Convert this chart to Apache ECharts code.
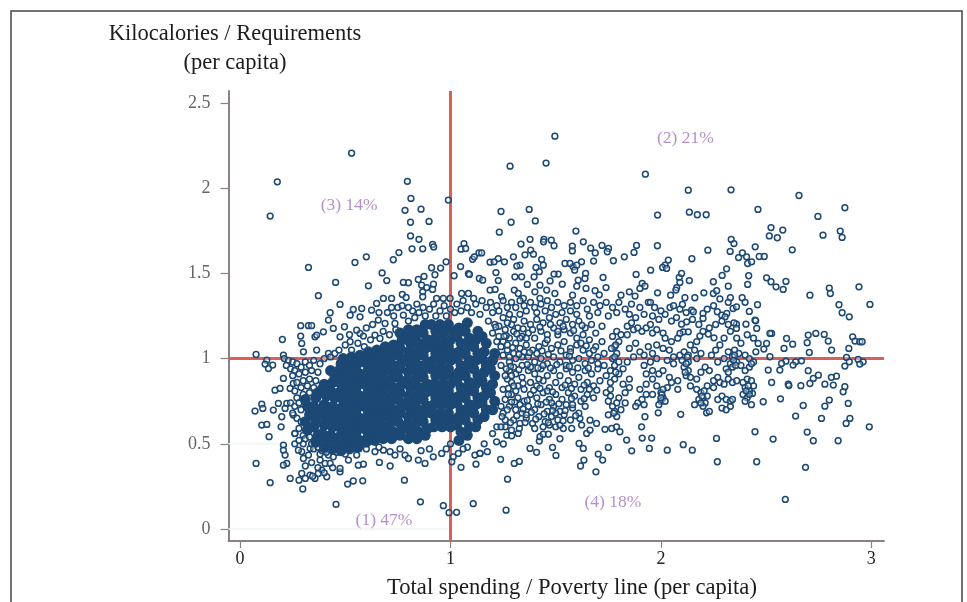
<!DOCTYPE html>
<html>
<head>
<meta charset="utf-8">
<script src="https://cdn.jsdelivr.net/npm/echarts@6/dist/echarts.min.js"></script>
<style>
  html, body { margin: 0; padding: 0; background: #fff; overflow: hidden; }
  #myChart { width: 967px; height: 602px; filter: blur(0.35px); }
</style>
</head>
<body>
<div id="myChart"></div>
<script>
// values: [spending, kilocalories]
const outliersTop = [[.53,2.205],[.177,2.037],[.143,1.836],[.795,2.04],[.99,1.93],[.812,1.94],[.784,1.87],[.86,1.877],[.81,1.8],[.898,1.805],[.81,1.72],[.85,1.7],[.915,1.67],[.92,1.655],[.817,1.644],[.868,1.644],[1.064,1.675],[1.05,1.642],[1.072,1.646],[1.105,1.583],[1.113,1.597],[1.135,1.62],[.755,1.622],[.728,1.58],[.6,1.597],[.546,1.564],[.325,1.535],[.979,1.568],[.91,1.533],[.953,1.531],[1.048,1.54],[.675,1.503],[.697,1.458],[1.017,1.486],[.926,1.492],[1.085,1.498],[1.09,1.494],[.454,1.447],[.61,1.427],[.776,1.447],[.8,1.445],[.847,1.464],[.874,1.482],[.919,1.437],[.863,1.431],[.887,1.417],[.915,1.406],[.868,1.392],[1.137,1.47],[.372,1.369],[.771,1.376],[.789,1.359],[.681,1.353],[.72,1.353],[.868,1.363],[.934,1.353],[.966,1.353],[.998,1.353],[1.053,1.382],[1.085,1.382],[1.11,1.353]];
const outliersTopRight = [[1.496,2.305],[1.283,2.129],[1.454,2.147],[1.926,2.082],[2.13,1.988],[2.333,1.99],[2.656,1.957],[2.874,1.885],[2.746,1.834],[2.461,1.875],[1.984,1.842],[2.135,1.859],[2.173,1.844],[2.215,1.844],[1.24,1.863],[1.374,1.875],[1.288,1.8],[1.403,1.808],[1.232,1.742],[1.596,1.748],[1.378,1.7],[1.444,1.7],[1.442,1.685],[1.479,1.695],[1.492,1.662],[1.631,1.685],[1.335,1.672],[1.579,1.66],[1.579,1.632],[1.666,1.648],[1.72,1.664],[1.751,1.646],[1.745,1.627],[1.688,1.62],[1.884,1.664],[1.872,1.623],[1.826,1.597],[1.774,1.574],[1.68,1.572],[1.983,1.662],[2.035,1.578],[2.02,1.548],[2.008,1.535],[2.027,1.529],[1.951,1.519],[1.882,1.494],[2.147,1.586],[2.223,1.636],[2.329,1.629],[2.334,1.699],[2.347,1.675],[2.448,1.656],[2.523,1.769],[2.515,1.72],[2.553,1.709],[2.579,1.754],[2.624,1.638],[2.77,1.724],[2.852,1.748],[2.861,1.711],[2.387,1.62],[2.369,1.593],[2.407,1.597],[2.412,1.558],[2.431,1.568],[2.467,1.599],[2.491,1.599],[2.312,1.527],[2.291,1.488],[2.417,1.486],[2.412,1.435],[2.502,1.474],[2.523,1.451],[2.547,1.421],[2.594,1.453],[2.581,1.406],[2.32,1.425],[2.249,1.451],[2.204,1.386],[2.249,1.382],[2.265,1.398],[2.135,1.458],[2.087,1.476],[2.098,1.5],[2.09,1.447],[2.075,1.417],[2.071,1.402],[2.046,1.372],[2.114,1.357],[2.161,1.357],[1.984,1.386],[1.911,1.441],[1.924,1.425],[1.9,1.412],[1.85,1.392],[1.877,1.367],[1.81,1.372],[1.739,1.417],[1.725,1.476],[1.687,1.398],[1.707,1.374],[1.644,1.412],[1.6,1.425],[1.642,1.5],[1.639,1.47],[1.607,1.46],[1.623,1.568],[1.583,1.539],[1.544,1.558],[1.568,1.558],[1.6,1.548],[1.59,1.519],[1.58,1.372],[1.531,1.437],[1.512,1.496],[1.492,1.496],[1.473,1.456],[1.496,1.382],[1.457,1.402],[1.425,1.431],[1.401,1.392],[1.365,1.435],[1.397,1.48],[1.422,1.51],[1.441,1.548],[1.406,1.535],[1.433,1.582],[1.354,1.609],[1.381,1.636],[1.394,1.613],[1.299,1.597],[1.33,1.548],[1.315,1.543],[1.338,1.48],[1.306,1.48],[1.216,1.505],[1.227,1.458],[1.256,1.568],[1.227,1.587],[1.188,1.566],[1.207,1.568],[1.148,1.62],[1.153,1.46],[1.188,1.402],[1.212,1.406],[1.303,1.402],[1.322,1.382],[1.243,1.363],[1.346,1.353],[1.425,1.353],[2.708,1.372],[2.8,1.414],[2.805,1.382],[2.941,1.421],[2.33,1.357],[2.386,1.357]];
const sparseRight = [[2.993,1.318],[2.846,1.316],[2.861,1.269],[2.895,1.245],[2.459,1.316],[2.42,1.277],[2.447,1.226],[2.45,1.222],[2.404,1.202],[2.359,1.202],[2.347,1.21],[2.359,1.177],[2.455,1.177],[2.268,1.275],[2.289,1.255],[2.313,1.265],[2.305,1.245],[2.343,1.294],[2.359,1.304],[2.2,1.265],[2.2,1.236],[2.146,1.284],[2.154,1.275],[2.102,1.318],[2.043,1.3],[2.074,1.241],[2.122,1.216],[2.098,1.202],[2.106,1.157],[2.13,1.157],[2.09,1.148],[2.185,1.132],[2.225,1.144],[2.252,1.122],[2.526,1.148],[2.518,1.148],[2.597,1.118],[2.7,1.138],[2.736,1.148],[2.776,1.142],[2.695,1.093],[2.795,1.103],[2.911,1.128],[2.922,1.103],[2.945,1.099],[2.956,1.099],[2.893,1.06],[2.811,1.05],[2.705,1.036],[2.626,1.085],[2.585,1.06],[2.462,1.089],[2.502,1.089],[2.489,1.056],[2.451,1.04],[2.518,1.011],[2.882,1.007],[2.937,.995],[2.961,.981],[2.945,.968],[2.895,.981],[2.874,.956],[2.668,.987],[2.64,.981],[2.594,.985],[2.573,.972],[2.628,.962],[2.565,.933],[2.51,.933],[2.7,.929],[2.748,.903],[2.724,.884],[2.708,.854],[2.834,.897],[2.81,.89],[2.779,.85],[2.819,.845],[2.526,.86],[2.605,.85],[2.608,.842],[2.665,.841],[2.874,.835],[2.866,.805],[2.8,.757],[2.779,.721],[2.89,.737],[2.676,.725],[2.568,.764],[2.486,.747],[2.435,.796],[2.64,.663],[2.763,.649],[2.898,.649],[2.88,.62],[2.99,.6],[2.695,.569],[2.724,.518],[2.842,.518],[2.533,.528],[2.447,.571],[2.264,.532],[2.455,.395],[2.268,.395],[2.687,.362],[2.591,.174],[2.217,.682],[2.094,.673],[1.987,.682],[1.924,.659]];
const sparseBottom = [[1.908,.6],[1.837,.522],[1.911,.534],[1.956,.534],[1.861,.459],[1.945,.473],[2.03,.463],[2.106,.495],[2.149,.463],[1.75,.479],[1.702,.44],[1.723,.405],[1.634,.405],[1.618,.37],[1.691,.336],[1.611,.502],[1.631,.473],[1.52,.53],[1.485,.479],[1.501,.432],[1.378,.473],[1.409,.45],[1.422,.516],[1.238,.409],[1.303,.385],[1.327,.397],[1.271,.293],[1.264,.111],[1.175,.454],[1.219,.512],[1.251,.499],[1.14,.444],[1.267,.551],[1.291,.547],[1.322,.561],[1.327,.59],[1.425,.542],[1.441,.557],[1.465,.557],[1.536,.59],[1.576,.59],[1.647,.561],[1.663,.581],[1.734,.585],[1.766,.59],[1.789,.6],[1.805,.571],[1.663,.639],[1.694,.62],[1.615,.649],[1.623,.61],[1.05,.362],[1.006,.395],[1.121,.381],[.879,.385],[.713,.37],[.662,.391],[.562,.375],[.586,.381],[.475,.336],[.475,.356],[.38,.405],[.404,.385],[.428,.385],[.388,.346],[.372,.326],[.301,.414],[.325,.434],[.293,.454],[.277,.463],[.333,.473],[.42,.434],[.443,.424],[.515,.405],[.554,.434],[.641,.454],[.681,.463],[.713,.454],[.736,.434],[.784,.434],[.8,.414],[.847,.405],[.918,.424],[.958,.444],[1.116,.434],[1.14,.444],[1.037,.444],[1.013,.424],[.238,.297],[.293,.326],[.333,.317],[.356,.297],[.28,.287],[.298,.235],[.412,.307],[.511,.264],[.538,.282],[.583,.283],[.781,.287],[.456,.145],[.857,.16],[.966,.137],[.993,.096],[1.029,.098],[1.108,.149],[.143,.272],[.076,.385],[.206,.493],[.206,.463],[.214,.434],[.222,.385],[.206,.375],[.31,.297],[.345,.31],[.4,.33],[.44,.36],[.37,.36],[.34,.39],[.31,.37],[.26,.5],[.3,.5],[.34,.5],[.38,.44],[.46,.45],[.5,.44],[.6,.47],[.66,.48],[.76,.47],[.86,.46],[.9,.47],[.98,.47],[1.08,.48],[1.16,.5],[1.06,.47],[1,.5]];
const leftFringe = [[.076,1.024],[.201,1.112],[.206,1.02],[.127,.991],[.135,.942],[.155,.962],[.119,.968],[.288,1.193],[.325,1.193],[.34,1.193],[.288,1.132],[.293,1.089],[.356,1.128],[.364,1.138],[.396,1.157],[.428,1.269],[.42,1.226],[.443,1.177],[.496,1.187],[.475,1.128],[.523,1.099],[.57,1.148],[.554,1.167],[.475,1.318],[.523,1.255],[.538,1.288],[.578,1.294],[.57,1.245],[.625,1.284],[.649,1.324],[.657,1.226],[.689,1.206],[.736,1.206],[.776,1.255],[.641,1.138],[.665,1.118],[.586,1.132],[.301,1.04],[.364,1.05],[.42,1.03],[.206,.884],[.166,.815],[.19,.825],[.238,.825],[.253,.854],[.103,.733],[.108,.708],[.071,.692],[.158,.698],[.182,.737],[.222,.737],[.214,.708],[.198,.659],[.253,.669],[.103,.61],[.127,.614],[.195,.6],[.138,.542],[.261,.561],[.21,1],[.23,.99],[.25,.98],[.27,.97],[.22,.96],[.24,.94],[.26,.93],[.29,.95],[.31,.98],[.33,.96],[.35,.99],[.38,.97],[.4,1],[.43,1.01],[.45,1.03],[.25,.9],[.28,.91],[.31,.92],[.34,.93],[.37,.92],[.27,.86],[.3,.87],[.33,.88],[.36,.87],[.26,.81],[.29,.83],[.32,.84],[.35,.83],[.27,.77],[.3,.79],[.33,.8],[.24,.74],[.26,.72],[.28,.74],[.29,.7],[.25,.68],[.27,.65],[.29,.63],[.28,.59],[.26,.56],[.3,.55],[.28,.52],[.31,.53],[.33,.54],[.35,.47],[.37,.48],[.39,.46],[.41,.45],[.47,1.05],[.5,1.08],[.53,1.05],[.56,1.09],[.59,1.07],[.62,1.11],[.52,1.14],[.6,1.18],[.63,1.2],[.68,1.16],[.71,1.14],[.74,1.17],[.66,1.27],[.7,1.27],[.73,1.25],[.75,1.3],[.72,1.3]];
const upperBand = [[.8,1.22],[.83,1.24],[.82,1.28],[.85,1.27],[.87,1.3],[.84,1.32],[.8,1.3],[.77,1.31],[.88,1.25],[.9,1.29],[.92,1.32],[.95,1.28],[.93,1.25],[.97,1.31],[1,1.29],[1.03,1.32],[1.06,1.34],[1.02,1.27],[.98,1.25],[1.05,1.28],[1.08,1.3],[1.1,1.27],[1.12,1.32],[1.15,1.34],[1.17,1.3],[1.14,1.26],[1.19,1.33],[1.22,1.31],[1.25,1.34],[1.2,1.27],[1.23,1.28],[1.27,1.3],[1.29,1.33],[1.31,1.3],[1.28,1.26],[1.25,1.24],[1.18,1.22],[1.21,1.2],[1.33,1.34],[1.35,1.31],[1.38,1.33],[1.36,1.28],[1.33,1.26],[1.3,1.23],[1.4,1.3],[1.43,1.32],[1.46,1.34],[1.41,1.27],[1.45,1.28],[1.48,1.3],[1.51,1.33],[1.54,1.31],[1.5,1.26],[1.53,1.27],[1.57,1.33],[1.6,1.31],[1.63,1.34],[1.57,1.28],[1.6,1.26],[1.65,1.29],[1.68,1.33],[1.71,1.31],[1.66,1.25],[1.7,1.27],[1.74,1.33],[1.77,1.3],[1.8,1.33],[1.75,1.25],[1.79,1.27],[1.83,1.29],[1.86,1.32],[1.9,1.3],[1.94,1.33],[1.97,1.3],[2,1.28],[1.85,1.26],[1.88,1.24],[1.92,1.26],[1.96,1.25],[1.99,1.23],[2.02,1.26],[2.05,1.22]];
const rightDense = [[1.2,1.15],[1.23,1.13],[1.26,1.17],[1.29,1.2],[1.32,1.18],[1.35,1.22],[1.38,1.2],[1.41,1.23],[1.44,1.21],[1.47,1.24],[1.25,1.1],[1.28,1.12],[1.31,1.09],[1.34,1.13],[1.37,1.15],[1.4,1.12],[1.43,1.16],[1.46,1.14],[1.49,1.18],[1.52,1.21],[1.55,1.23],[1.58,1.2],[1.61,1.22],[1.64,1.18],[1.51,1.14],[1.54,1.17],[1.57,1.15],[1.6,1.12],[1.63,1.14],[1.66,1.11],[1.69,1.15],[1.72,1.19],[1.67,1.2],[1.27,1.05],[1.3,1.03],[1.33,1.06],[1.36,1.08],[1.39,1.05],[1.42,1.07],[1.45,1.09],[1.48,1.06],[1.51,1.08],[1.54,1.1],[1.57,1.06],[1.6,1.08],[1.63,1.05],[1.66,1.03],[1.69,1.07],[1.72,1.1],[1.28,.98],[1.31,1],[1.34,.96],[1.37,1.01],[1.4,.98],[1.43,1],[1.46,.97],[1.49,1.01],[1.52,.98],[1.55,1.02],[1.58,.99],[1.61,1],[1.64,.97],[1.67,.99],[1.7,1.01],[1.73,1.03],[1.28,.93],[1.31,.91],[1.34,.89],[1.37,.93],[1.4,.91],[1.43,.94],[1.46,.9],[1.49,.93],[1.52,.9],[1.55,.94],[1.58,.92],[1.61,.89],[1.64,.93],[1.67,.91],[1.7,.94],[1.73,.96],[1.29,.86],[1.32,.84],[1.35,.82],[1.38,.86],[1.41,.84],[1.44,.87],[1.47,.83],[1.5,.86],[1.53,.83],[1.56,.87],[1.59,.85],[1.62,.82],[1.65,.86],[1.68,.84],[1.71,.87],[1.29,.79],[1.32,.77],[1.35,.75],[1.38,.79],[1.41,.77],[1.44,.8],[1.47,.76],[1.5,.79],[1.53,.76],[1.56,.8],[1.59,.78],[1.62,.75],[1.65,.79],[1.68,.77],[1.28,.72],[1.31,.7],[1.34,.68],[1.37,.72],[1.4,.7],[1.43,.73],[1.46,.69],[1.49,.72],[1.52,.69],[1.55,.73],[1.58,.71],[1.61,.68],[1.64,.72],[1.3,.64],[1.33,.62],[1.36,.65],[1.39,.62],[1.42,.66],[1.45,.63],[1.48,.66],[1.51,.64],[1.54,.67],[1.57,.64],[1.26,.6],[1.29,.58],[1.22,.6],[1.2,.56],[1.4,.59],[1.44,.6],[1.47,.61],[1.5,.6],[1.52,.61],[1.3,1.16],[1.33,1.12],[1.35,1.04],[1.38,.95],[1.42,.88],[1.46,.81],[1.48,.74],[1.5,.68],[1.55,.96],[1.57,1.04],[1.62,1.09],[1.68,1.05],[1.7,.97],[1.66,.82],[1.58,.73],[1.44,.96],[1.41,1.03],[1.46,1.11],[1.51,1.16],[1.39,1.17],[1.36,1.12],[1.34,1.01],[1.3,.95],[1.27,.88],[1.31,.81],[1.33,.73],[1.36,.67],[1.25,.68],[1.24,.72],[1.26,.76],[1.25,.82],[1.26,.9],[1.24,.96],[1.25,1.02],[1.24,1.07],[1.22,1.1],[1.23,1.19],[1.27,1.21],[1.26,.64],[1.24,.6]];
const rightMedium = [[1.74,.9],[1.76,.93],[1.78,.96],[1.77,1],[1.79,1.03],[1.78,1.07],[1.8,1.1],[1.77,1.13],[1.79,1.16],[1.81,1.14],[1.76,.86],[1.78,.88],[1.8,.91],[1.82,.94],[1.74,.8],[1.76,.78],[1.75,.75],[1.77,.72],[1.78,.69],[1.75,.67],[1.79,.66],[1.81,.7],[1.83,.74],[1.8,.77],[1.83,.8],[1.85,.83],[1.82,.85],[1.85,.88],[1.84,.98],[1.87,1.01],[1.85,1.06],[1.88,1.09],[1.84,1.14],[1.87,1.17],[1.84,1.19],[1.86,1.21],[1.89,1.18],[1.91,1.16],[1.93,1.18],[1.96,1.15],[1.95,1.2],[1.98,1.17],[2.01,1.15],[1.89,.74],[1.91,.76],[1.88,.72],[1.92,.73],[1.93,.79],[1.9,.82],[1.93,.85],[1.96,.88],[1.98,.84],[2,.8],[2.01,.77],[2,.75],[1.99,.73],[2.02,.75],[2.03,.83],[2.05,.86],[2.08,.87],[2.04,.89],[2.08,.82],[1.96,.79],[1.93,.91],[1.96,.93],[1.99,.91],[2.01,.93],[1.92,.96],[1.95,.98],[1.98,1],[1.96,1.03],[1.92,1.02],[1.9,1.04],[1.94,1.07],[1.98,1.08],[2.01,1.06],[2.04,1.05],[2.06,1.01],[2.03,.99],[2.06,.97],[2.09,1.02],[2.11,1.04],[2.13,1.02],[2.1,.99],[2.13,.98],[2.11,.95],[2.13,.93],[2.12,.9],[2.14,.89],[2.16,1.05],[2.19,1.03],[2.17,1],[2.21,.95],[2.23,.93],[2.19,.92],[2.17,.88],[2.14,.84],[2.17,.82],[2.19,.8],[2.2,.77],[2.18,.76],[2.21,.74],[2.2,.72],[2.22,.78],[2.22,.84],[2.25,.87],[2.27,.89],[2.25,.83],[2.28,.86],[2.23,.69],[2.16,.73],[2.27,.76],[2.29,.78],[2.31,.76],[2.33,.75],[2.29,.71],[2.31,.7],[2.33,.72],[2.34,.76],[2.3,.85],[2.32,.88],[2.34,.86],[2.36,.87],[2.39,.86],[2.41,.88],[2.43,.87],[2.4,.83],[2.42,.81],[2.39,.79],[2.41,.77],[2.4,.75],[2.43,.73],[2.44,.84],[2.31,.94],[2.33,.97],[2.3,1],[2.32,1.04],[2.34,1.01],[2.36,.98],[2.35,1.05],[2.37,1.03],[2.38,.96],[2.34,.95],[2.32,.92],[2.4,1.02],[2.42,1],[2.44,.98],[2.42,.95],[2.4,.93],[2.43,.97],[2.27,.98],[2.24,1.02],[2.26,1.05],[2.28,1.08],[2.3,1.12],[2.33,1.16],[2.36,1.12],[2.38,1.09],[2.41,1.14],[2.44,1.12],[2.14,1.08],[2.17,1.1],[2.2,1.16],[2.23,1.18],[2.26,1.2],[2.29,1.22],[2.32,1.2],[2.18,1.2],[2.15,1.23],[2.12,1.27],[2.09,1.29],[2.06,1.31],[2.22,1.29],[2.25,1.31],[2.4,1.33],[2.32,1.33],[2.28,1.35],[1.95,1.33],[2.08,1.12],[2.05,1.1],[2.02,1.12]];
// clumps on top of the band right of the core
const rightClumps = [[1.215,1.185],[1.265,1.135],[1.315,1.145],[1.345,1.175],[1.425,1.185],[1.475,1.2],[1.535,1.19],[1.585,1.165],[1.625,1.195],[1.295,1.065],[1.325,1.025],[1.375,1.035],[1.435,1.045],[1.465,1.025],[1.525,1.045],[1.565,1.015],[1.645,1.075],[1.285,.955],[1.325,.935],[1.365,.965],[1.415,.945],[1.475,.945],[1.505,.965],[1.565,.955],[1.605,.945],[1.655,.945],[1.275,.825],[1.345,.855],[1.395,.815],[1.425,.825],[1.485,.805],[1.545,.845],[1.575,.825],[1.635,.845],[1.695,.815],[1.305,.745],[1.365,.755],[1.415,.735],[1.455,.745],[1.515,.735],[1.575,.765],[1.635,.765],[1.345,.705],[1.385,.685],[1.445,.675],[1.485,.695],[1.545,.695],[1.595,.665],[1.315,.665],[1.355,.625],[1.405,.645],[1.465,.625],[1.535,.635],[1.285,.625],[1.245,.66],[1.27,.7],[1.29,.745],[1.275,.79],[1.3,.84],[1.29,.9],[1.265,.94],[1.28,1.01],[1.27,1.08],[1.255,1.13],[1.78,1.01],[1.785,1.08],[1.765,1.06],[1.8,.98],[1.785,.92],[1.76,.82],[1.79,.74],[1.775,.68],[2.12,.97],[2.125,1.01],[2.115,.92],[2.195,.78],[2.205,.81],[2.19,.74],[2.35,1.02],[2.345,.99],[2.355,.96],[2.415,.84],[2.42,.79],[2.405,.81],[2.005,.79],[2.01,.82],[2.0,.77]];
// this patch reads as solid navy in the picture, the rings merge into one mass
const denseCore = [[.32,.58],[.31,.63],[.33,.67],[.32,.72],[.31,.76],[.36,.51],[.37,.55],[.35,.6],[.36,.64],[.37,.68],[.35,.72],[.36,.77],[.37,.8],[.4,.48],[.41,.52],[.39,.56],[.4,.61],[.41,.65],[.39,.69],[.4,.73],[.41,.78],[.39,.82],[.4,.85],[.44,.47],[.45,.51],[.43,.55],[.44,.6],[.45,.64],[.43,.68],[.44,.72],[.45,.77],[.43,.81],[.44,.86],[.45,.9],[.43,.93],[.48,.46],[.49,.5],[.47,.54],[.48,.59],[.49,.63],[.47,.67],[.48,.71],[.49,.76],[.47,.8],[.48,.85],[.49,.89],[.47,.93],[.48,.97],[.49,1],[.52,.47],[.53,.51],[.51,.55],[.52,.6],[.53,.64],[.51,.68],[.52,.72],[.53,.77],[.51,.81],[.52,.86],[.53,.9],[.51,.94],[.52,.98],[.53,1.01],[.56,.48],[.57,.52],[.55,.56],[.56,.61],[.57,.65],[.55,.69],[.56,.73],[.57,.78],[.55,.82],[.56,.87],[.57,.91],[.55,.95],[.56,.99],[.57,1.02],[.6,.51],[.61,.55],[.59,.59],[.6,.64],[.61,.68],[.59,.72],[.6,.76],[.61,.81],[.59,.85],[.6,.9],[.61,.94],[.59,.98],[.6,1.02],[.61,1.04],[.64,.52],[.65,.56],[.63,.6],[.64,.65],[.65,.69],[.63,.73],[.64,.77],[.65,.82],[.63,.86],[.64,.91],[.65,.95],[.63,.99],[.64,1.03],[.65,1.05],[.68,.53],[.69,.57],[.67,.61],[.68,.66],[.69,.7],[.67,.74],[.68,.78],[.69,.83],[.67,.87],[.68,.92],[.69,.96],[.67,1],[.68,1.04],[.69,1.07],[.72,.53],[.73,.57],[.71,.61],[.72,.66],[.73,.7],[.71,.74],[.72,.78],[.73,.83],[.71,.87],[.72,.92],[.73,.96],[.71,1],[.72,1.04],[.73,1.08],[.76,.55],[.77,.59],[.75,.63],[.76,.68],[.77,.72],[.75,.76],[.76,.8],[.77,.85],[.75,.89],[.76,.94],[.77,.98],[.75,1.02],[.76,1.06],[.77,1.11],[.76,1.15],[.8,.53],[.81,.57],[.79,.61],[.8,.66],[.81,.7],[.79,.74],[.8,.78],[.81,.83],[.79,.87],[.8,.92],[.81,.96],[.79,1],[.8,1.04],[.81,1.09],[.79,1.13],[.8,1.17],[.84,.53],[.85,.57],[.83,.61],[.84,.66],[.85,.7],[.83,.74],[.84,.78],[.85,.83],[.83,.87],[.84,.92],[.85,.96],[.83,1],[.84,1.04],[.85,1.09],[.83,1.13],[.84,1.17],[.88,.55],[.89,.59],[.87,.63],[.88,.68],[.89,.72],[.87,.76],[.88,.8],[.89,.85],[.87,.89],[.88,.94],[.89,.98],[.87,1.02],[.88,1.06],[.89,1.11],[.87,1.15],[.88,1.2],[.92,.6],[.93,.64],[.91,.68],[.92,.73],[.93,.77],[.91,.81],[.92,.85],[.93,.9],[.91,.94],[.92,.99],[.93,1.03],[.91,1.07],[.92,1.11],[.93,1.16],[.91,1.2],[.96,.6],[.97,.64],[.95,.68],[.96,.73],[.97,.77],[.95,.81],[.96,.85],[.97,.9],[.95,.94],[.96,.99],[.97,1.03],[.95,1.07],[.96,1.11],[.97,1.16],[.95,1.2],[1,.6],[1.01,.64],[.99,.68],[1,.73],[1.01,.77],[.99,.81],[1,.85],[1.01,.9],[.99,.94],[1,.99],[1.01,1.03],[.99,1.07],[1,1.11],[1.01,1.16],[.99,1.2],[1.04,.52],[1.05,.57],[1.03,.61],[1.04,.66],[1.05,.7],[1.03,.74],[1.04,.78],[1.05,.83],[1.03,.87],[1.04,.92],[1.05,.96],[1.03,1],[1.04,1.04],[1.05,1.09],[1.03,1.13],[1.04,1.18],[1.08,.55],[1.09,.6],[1.07,.64],[1.08,.69],[1.09,.73],[1.07,.77],[1.08,.81],[1.09,.86],[1.07,.9],[1.08,.95],[1.09,.99],[1.07,1.03],[1.08,1.07],[1.09,1.12],[1.07,1.16],[1.08,1.21],[1.12,.6],[1.13,.64],[1.11,.68],[1.12,.73],[1.13,.77],[1.11,.81],[1.12,.85],[1.13,.9],[1.11,.94],[1.12,.99],[1.13,1.03],[1.11,1.07],[1.12,1.11],[1.13,1.16],[1.16,.66],[1.17,.7],[1.15,.74],[1.16,.78],[1.17,.83],[1.15,.87],[1.16,.92],[1.17,.96],[1.15,1],[1.16,1.04],[1.17,1.09],[1.15,1.13],[1.2,.7],[1.21,.75],[1.19,.8],[1.2,.85],[1.21,.9],[1.19,.94],[1.2,.99],[1.21,1.03]];

const xTicks = [0, 1, 2, 3];
const yTicks = [0, 0.5, 1, 1.5, 2, 2.5];
const xRange = [-0.055, 3.06];
const yRange = [-0.07, 2.57];
const regionLabels = ['(1) 47%', '(2) 21%', '(3) 14%', '(4) 18%'];
const regionSpots = [[.684, .053], [2.116, 2.293], [.518, 1.9], [1.772, .158]];
const verticalRule = [[1, yRange[0]], [1, yRange[1]]];
const horizontalRule = [[xRange[0], 1], [xRange[1], 1]];
const faintZero = [[xRange[0], 0], [1, 0]];
const faintHalf = [[xRange[0], .5], [.27, .5]];

const ringPoints = [].concat(outliersTop, outliersTopRight, sparseRight, sparseBottom, leftFringe, upperBand, rightDense, rightMedium, rightClumps);

const navy = '#1b4874';
const serif = '"Liberation Serif", serif';

function ruleSeries(data, color, width) {
  return { type: 'line', data: data, symbol: 'none', z: 1, silent: true, lineStyle: { color: color, width: width } };
}

let myChart = echarts.init(document.getElementById('myChart'));
myChart.setOption({
  animation: false,
  backgroundColor: '#fff',
  grid: { left: 228.5, top: 91, width: 655.5, height: 450 },
  title: [
    {
      text: 'Kilocalories / Requirements\n(per capita)',
      left: 230, top: 15, textAlign: 'center',
      textStyle: { fontFamily: serif, fontWeight: 'normal', fontSize: 22.5, lineHeight: 29, color: '#1c1c1c' }
    },
    {
      text: 'Total spending / Poverty line (per capita)',
      left: 567, top: 572, textAlign: 'center',
      textStyle: { fontFamily: serif, fontWeight: 'normal', fontSize: 22.6, color: '#1c1c1c' }
    }
  ],
  xAxis: {
    type: 'value', min: xRange[0], max: xRange[1],
    splitLine: { show: false },
    axisLine: { onZero: false, lineStyle: { color: '#8a8280', width: 2 } },
    axisTick: { customValues: xTicks, length: 7, lineStyle: { color: '#8a8280', width: 1.2 } },
    axisLabel: { customValues: xTicks, margin: 9, fontFamily: serif, fontSize: 18, color: '#222' }
  },
  yAxis: {
    type: 'value', min: yRange[0], max: yRange[1],
    splitLine: { show: false },
    axisLine: { show: true, onZero: false, lineStyle: { color: '#8a8280', width: 2 } },
    axisTick: { show: true, customValues: yTicks, length: 8, lineStyle: { color: '#8a8280', width: 1.2 } },
    axisLabel: { customValues: yTicks, margin: 18, fontFamily: serif, fontSize: 18, color: '#666' }
  },
  graphic: [
    { type: 'rect', shape: { x: 11, y: 11, width: 951, height: 620 }, style: { fill: 'none', stroke: '#444', lineWidth: 1.5 }, silent: true }
  ],
  series: [
    ruleSeries(faintZero, '#eef6f3', 1.5),
    ruleSeries(faintHalf, '#eef6f3', 1.5),
    ruleSeries(verticalRule, '#d9605a', 3),
    ruleSeries(horizontalRule, '#d9605a', 3),
    {
      type: 'scatter', data: ringPoints, symbol: 'circle', symbolSize: 5.8, z: 2, silent: true,
      itemStyle: { color: 'rgba(255,255,255,0.35)', borderColor: navy, borderWidth: 1.5, opacity: 1 }
    },
    {
      type: 'scatter', data: denseCore, symbol: 'circle', symbolSize: 11, z: 3, silent: true,
      itemStyle: { color: navy, opacity: 1 }
    },
    {
      type: 'scatter', data: regionSpots, symbolSize: 0, z: 4, silent: true,
      label: {
        show: true, position: 'inside',
        formatter: function (p) { return regionLabels[p.dataIndex]; },
        fontFamily: serif, fontSize: 17.5, color: '#a274bd'
      }
    }
  ]
});
</script>
</body>
</html>
